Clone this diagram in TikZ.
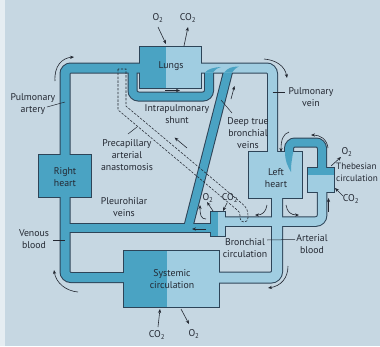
\documentclass[tikz,border=0pt]{standalone}
\usepackage{fontspec}
\setmainfont{PT Sans}
\usetikzlibrary{arrows.meta}
\definecolor{bg}{RGB}{198,215,226}
\definecolor{dk}{RGB}{74,163,195}
\definecolor{lt}{RGB}{160,205,225}
\definecolor{ol}{RGB}{45,68,88}
\definecolor{tx}{RGB}{35,40,50}
\begin{document}
\begin{tikzpicture}[x=1pt,y=-1pt,
  tubeout/.style={draw=ol,line width=#1,rounded corners=6pt},
  dktube/.style={draw=dk,line width=#1,rounded corners=6pt},
  lttube/.style={draw=lt,line width=#1,rounded corners=6pt},
  boxout/.style={draw=ol,line width=2pt},
  arr/.style={draw=tx,line width=0.6pt,-{Stealth[length=4pt,width=3.2pt]}},
  lead/.style={draw=tx,line width=0.5pt},
  lbl/.style={text=tx,font=\fontsize{9.8}{12}\selectfont,align=center,inner sep=0pt},
  lbll/.style={lbl,align=left,anchor=west,font=\fontsize{9.2}{12}\selectfont},
  anast/.style={draw=tx,line width=0.55pt,dash pattern=on 2.4pt off 1.4pt}
]
\useasboundingbox (0,0) rectangle (380,346);
\fill[bg] (0,0) rectangle (380,346);
\fill[white!55!bg] (0,0) rectangle (5,346);

% ---------- outlines ----------
\draw[tubeout=11pt] (65,156) -- (65,68) -- (142,68);
\draw[tubeout=11pt] (65,196) -- (65,277.5) -- (126,277.5);
\draw[tubeout=10pt] (65,228) -- (213,228);
\draw[tubeout=10pt] (188,228) -- (229,68);
\draw[tubeout=10pt] (132.5,68) -- (132.5,96.5) -- (209,96.5) -- (209,68);
\draw[tubeout=10pt] (289,154) -- (289,142.5) -- (322,142.5) -- (322,170);
\draw[tubeout=11pt] (199,68) -- (272.5,68) -- (272.5,154);
\draw[tubeout=12pt] (277,196) -- (277,277.5) -- (217,277.5);
\draw[tubeout=10.5pt] (223,221.5) -- (322,221.5) -- (322,190);
\draw[boxout] (140,47) rectangle (201,88);
\draw[boxout] (39,155) rectangle (91,197);
\draw[boxout] (249,152) rectangle (302,198);
\draw[boxout] (124,251) rectangle (219,307);
\draw[boxout] (211,212) rectangle (225,236);
\draw[boxout] (308,168) rectangle (334,192);

% ---------- box fills ----------
\fill[dk] (140,47) rectangle (166,88);
\fill[lt] (166,47) rectangle (201,88);
\fill[dk] (39,155) rectangle (91,197);
\fill[lt] (249,152) rectangle (302,198);
\fill[dk] (124,251) rectangle (167,307);
\fill[lt] (167,251) rectangle (219,307);
\fill[dk] (211,212) rectangle (218,236);
\fill[lt] (218,212) rectangle (225,236);
\fill[dk] (308,168) rectangle (334,175);
\fill[lt] (308,175) rectangle (334,192);

% ---------- tube fills ----------
\draw[dktube=9pt] (65,156) -- (65,68) -- (142,68);
\draw[dktube=9pt] (65,196) -- (65,277.5) -- (126,277.5);
\draw[dktube=8pt] (65,228) -- (213,228);
\draw[dktube=8pt] (188,228) -- (229,68);
\draw[dktube=8pt] (132.5,68) -- (132.5,96.5) -- (209,96.5) -- (209,68);
\draw[dktube=8pt] (289,154) -- (289,142.5) -- (322,142.5) -- (322,170);
\draw[lttube=9pt] (199,68) -- (272.5,68) -- (272.5,154);
\draw[lttube=10pt] (277,196) -- (277,277.5) -- (217,277.5);
\draw[lttube=8.5pt] (223,221.5) -- (322,221.5) -- (322,190);

% ---------- mixing flames ----------
\fill[dk] (285,152) .. controls (285,161) and (288,167) .. (291,172)
          .. controls (290.5,165) and (292.5,158) .. (293,152) -- cycle;
\fill[dk] (205,72.5) .. controls (208,69) and (213,67.5) .. (221,67)
          .. controls (216,68.5) and (214.5,70.5) .. (213,72.5) -- cycle;
\fill[dk] (224,72.5) .. controls (227.5,68) and (232,66.5) .. (239,66.5)
          .. controls (235.5,68) and (234,70) .. (232,72.5) -- cycle;

% ---------- precapillary anastomosis channel ----------
\draw[anast] (118,69) -- (118,109.9) -- (237.4,210.2)
  .. controls (239.2,211.6) and (240,213) .. (240,215.5) -- (240,218)
  .. controls (240,223.3) and (248,223.3) .. (248,218) -- (248,215.5)
  .. controls (248,210) and (246,207) .. (242.6,204)
  -- (126,106.1) -- (126,69) -- cycle;

% ---------- labels ----------
\node[lbl] (o2top) at (158,18) {O\textsubscript{2}};
\node[lbl] (co2top) at (188,18) {CO\textsubscript{2}};
\node[lbl] (lungs) at (171,66) {Lungs};
\node[lbl] (partery) at (33,104) {Pulmonary\\artery};
\node[lbl] (shunt) at (177,114) {Intrapulmonary\\shunt};
\node[lbl] (precap) at (127,155) {Precapillary\\arterial\\anastomosis};
\node[lbl] (pvein) at (311,97) {Pulmonary\\vein};
\node[lbl] (deep) at (248,133) {Deep true\\bronchial\\veins};
\node[lbl] (rheart) at (65,177) {Right\\heart};
\node[lbl] (lheart) at (276,178) {Left\\heart};
\node[lbl] (pleuro) at (124,207.5) {Pleurohilar\\veins};
\node[lbl] (o2br) at (208,198) {O\textsubscript{2}};
\node[lbl] (co2br) at (230,198) {CO\textsubscript{2}};
\node[lbl] (o2th) at (347,152) {O\textsubscript{2}};
\node[lbll] (theb) at (336,172) {Thebesian\\circulation};
\node[lbl] (co2th) at (351,199) {CO\textsubscript{2}};
\node[lbl] (venous) at (34,239.5) {Venous\\blood};
\node[lbl] (bronc) at (245,248) {Bronchial\\circulation};
\node[lbl] (artb) at (312,244) {Arterial\\blood};
\node[lbl] (syst) at (172,279.5) {Systemic\\circulation};
\node[lbl] (co2bot) at (157,335) {CO\textsubscript{2}};
\node[lbl] (o2bot) at (194,334) {O\textsubscript{2}};

% ---------- leaders ----------
\draw[lead] (47,107) -- (65,102);
\draw[lead] (272.5,92) -- (285,92);
\draw[lead] (53,240) -- (65,240);
\draw[lead] (221,100) -- (232,113);
\draw[lead] (128,134) -- (137,127);
\draw[lead] (267,240) -- (295,239.5);

% ---------- straight arrows ----------
\draw[arr] (158,27) -- (166,44);
\draw[arr] (184,46) -- (188,27);
\draw[arr] (165,90.5) -- (180,90.5);
\draw[arr] (187,148) -- (174.5,137.5);
\draw[arr] (231,99) -- (234.5,86);
\draw[arr] (213,211) -- (207,202);
\draw[arr] (227,203) -- (223,211);
\draw[arr] (206,229) -- (192,229);
\draw[arr] (331,166) -- (341,157);
\draw[arr] (343,196) -- (335,188);
\draw[arr] (328.5,212) -- (328.5,198);
\draw[arr] (158,327) -- (160,309);
\draw[arr] (181,309) -- (189,324);

% ---------- curved arrows ----------
\draw[arr] (55,81) .. controls (54,66) and (62,58) .. (74,57);
\draw[arr] (264,59) .. controls (276,60) and (285,66) .. (287,78);
\draw[arr] (289,132) .. controls (283,134) and (281,140) .. (281,152);
\draw[arr] (328,148) .. controls (327,139) and (320,135) .. (311,135);
\draw[arr] (267,205) .. controls (266,212) and (262,215) .. (255,215);
\draw[arr] (286,205) .. controls (287,212) and (291,215) .. (299,215);
\draw[arr] (206,219) .. controls (201,219) and (200,215) .. (200,205);
\draw[arr] (78,292) .. controls (66,291) and (56,283) .. (54,270);
\draw[arr] (288,266) .. controls (288,278) and (281,286) .. (268,288);
\end{tikzpicture}
\end{document}
